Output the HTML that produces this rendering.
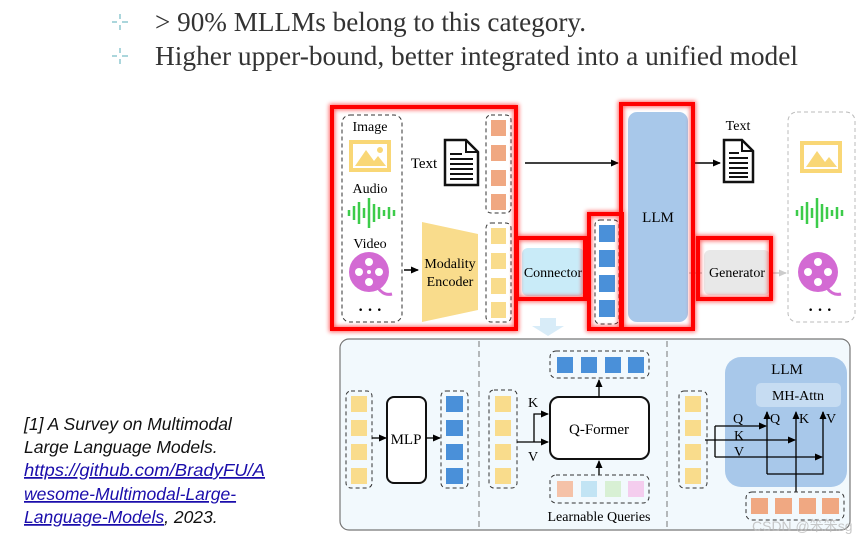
<!DOCTYPE html>
<html><head><meta charset="utf-8"><style>
html,body{margin:0;padding:0;background:#fff;width:868px;height:539px;overflow:hidden}
svg{display:block}
.s{font-family:"Liberation Serif",serif}
</style></head><body>
<svg width="868" height="539" viewBox="0 0 868 539" xmlns="http://www.w3.org/2000/svg">
<defs>
<marker id="a" markerWidth="8" markerHeight="8" refX="7" refY="4" orient="auto" markerUnits="userSpaceOnUse"><path d="M0,0.5 L8,4 L0,7.5z" fill="#000"/></marker>
<marker id="g" markerWidth="8" markerHeight="8" refX="7" refY="4" orient="auto" markerUnits="userSpaceOnUse"><path d="M0,0.5 L8,4 L0,7.5z" fill="#ccc"/></marker>
<filter id="gl" x="-10%" y="-10%" width="120%" height="120%"><feGaussianBlur stdDeviation="2"/></filter>
</defs>
<!-- top text -->
<g stroke="#8fc9d0" stroke-width="1.5">
<line x1="112" y1="22" x2="117" y2="22"/><line x1="122" y1="22" x2="128" y2="22"/><line x1="120" y1="14" x2="120" y2="19"/><line x1="120" y1="25" x2="120" y2="30"/>
<line x1="112" y1="56" x2="117" y2="56"/><line x1="122" y1="56" x2="128" y2="56"/><line x1="120" y1="48" x2="120" y2="53"/><line x1="120" y1="59" x2="120" y2="64"/>
</g>
<text x="155" y="31" class="s" font-size="27" fill="#333" textLength="431" lengthAdjust="spacingAndGlyphs">&gt; 90% MLLMs belong to this category.</text>
<text x="155" y="65" class="s" font-size="27" fill="#333" textLength="643" lengthAdjust="spacingAndGlyphs">Higher upper-bound, better integrated into a unified model</text>
<!-- footnote -->
<g font-family="Liberation Sans,sans-serif" font-style="italic" font-size="17.5" fill="#111">
<text x="24" y="430">[1] A Survey on Multimodal</text>
<text x="24" y="453">Large Language Models.</text>
<text x="24" y="476" fill="#1a0dab" text-decoration="underline" textLength="241" lengthAdjust="spacingAndGlyphs">https://github.com/BradyFU/A</text>
<text x="24" y="500" fill="#1a0dab" text-decoration="underline">wesome-Multimodal-Large-</text>
<text x="24" y="523"><tspan fill="#1a0dab" text-decoration="underline">Language-Models</tspan>, 2023.</text>
</g>

<!-- top diagram -->
<rect x="342" y="115" width="60" height="207" rx="8" fill="none" stroke="#333" stroke-dasharray="4,3"/>
<text x="370" y="131" class="s" font-size="14" text-anchor="middle">Image</text>
<rect x="349" y="140" width="42" height="32" fill="#f9d776"/><rect x="353" y="144" width="34" height="24" fill="#fff"/>
<path d="M355,166 L366,150 L374,161 L378,156 L386,166z" fill="#f9d776"/><circle cx="380" cy="150" r="3" fill="#f9d776"/>
<text x="370" y="193" class="s" font-size="14" text-anchor="middle">Audio</text>
<g stroke="#3ccc4a" stroke-width="2.5"><line x1="349" y1="210" x2="349" y2="216"/><line x1="354" y1="206" x2="354" y2="220"/><line x1="359" y1="202" x2="359" y2="224"/><line x1="364" y1="208" x2="364" y2="218"/><line x1="369" y1="198" x2="369" y2="228"/><line x1="374" y1="204" x2="374" y2="222"/><line x1="379" y1="207" x2="379" y2="219"/><line x1="384" y1="210" x2="384" y2="216"/><line x1="389" y1="207" x2="389" y2="219"/><line x1="394" y1="210" x2="394" y2="216"/></g>
<text x="370" y="248" class="s" font-size="14" text-anchor="middle">Video</text>
<circle cx="369" cy="272" r="20" fill="#d36ad3"/>
<g fill="#fff"><circle cx="369" cy="262" r="4"/><circle cx="369" cy="282" r="4"/><circle cx="359" cy="272" r="4"/><circle cx="379" cy="272" r="4"/><circle cx="369" cy="272" r="2"/></g>
<path d="M378,288 Q384,296 392,294" stroke="#d36ad3" stroke-width="3" fill="none"/>
<text x="370" y="315" class="s" font-size="16" text-anchor="middle" font-weight="bold">· · ·</text>
<line x1="404" y1="270" x2="418" y2="270" stroke="#000" stroke-width="1.5" marker-end="url(#a)"/>
<path d="M422,222 L478,234 L478,310 L422,322z" fill="#f9dc8c"/>
<text x="450" y="268" class="s" font-size="14" text-anchor="middle">Modality</text>
<text x="450" y="286" class="s" font-size="14" text-anchor="middle">Encoder</text>
<text x="424" y="168" class="s" font-size="15" text-anchor="middle">Text</text>
<g><path d="M445,140 L466,140 L478,152 L478,185 L445,185z" fill="#fff" stroke="#111" stroke-width="2.5"/><path d="M466,140 L466,152 L478,152" fill="none" stroke="#111" stroke-width="2"/>
<g stroke="#111" stroke-width="2"><line x1="450" y1="154" x2="462" y2="154"/><line x1="450" y1="159" x2="473" y2="159"/><line x1="450" y1="164" x2="473" y2="164"/><line x1="450" y1="169" x2="473" y2="169"/><line x1="450" y1="174" x2="473" y2="174"/><line x1="450" y1="179" x2="473" y2="179"/></g></g>
<rect x="486" y="115" width="25" height="98" rx="5" fill="none" stroke="#333" stroke-dasharray="4,3"/>
<g fill="#f0a882"><rect x="491" y="120" width="15" height="16"/><rect x="491" y="145" width="15" height="16"/><rect x="491" y="170" width="15" height="16"/><rect x="491" y="194" width="15" height="16"/></g>
<rect x="486" y="223" width="25" height="99" rx="5" fill="none" stroke="#333" stroke-dasharray="4,3"/>
<g fill="#f9dc8c"><rect x="491" y="228" width="15" height="16"/><rect x="491" y="253" width="15" height="16"/><rect x="491" y="278" width="15" height="16"/><rect x="491" y="302" width="15" height="16"/></g>
<line x1="525" y1="163" x2="618" y2="163" stroke="#000" stroke-width="1.5" marker-end="url(#a)"/>
<rect x="522" y="248" width="62" height="48" rx="6" fill="#c9ebf8"/>
<text x="553" y="277" class="s" font-size="14" text-anchor="middle">Connector</text>
<path d="M540,318 L556,318 L556,326 L564,326 L548,336 L532,326 L540,326z" fill="#d8ecf8"/>
<rect x="595" y="220" width="24" height="104" rx="5" fill="none" stroke="#333" stroke-dasharray="4,3"/>
<g fill="#4a90d9"><rect x="599" y="225" width="16" height="17"/><rect x="599" y="250" width="16" height="17"/><rect x="599" y="275" width="16" height="17"/><rect x="599" y="300" width="16" height="17"/></g>
<rect x="628" y="112" width="60" height="210" rx="9" fill="#a8c8ea"/>
<text x="658" y="222" class="s" font-size="15" text-anchor="middle">LLM</text>
<line x1="692" y1="163" x2="720" y2="163" stroke="#000" stroke-width="1.5" marker-end="url(#a)"/>
<text x="738" y="130" class="s" font-size="14" text-anchor="middle">Text</text>
<g><path d="M724,140 L742,140 L753,151 L753,182 L724,182z" fill="#fff" stroke="#111" stroke-width="2.5"/><path d="M742,140 L742,151 L753,151" fill="none" stroke="#111" stroke-width="2"/>
<g stroke="#111" stroke-width="2"><line x1="729" y1="153" x2="739" y2="153"/><line x1="729" y1="158" x2="748" y2="158"/><line x1="729" y1="163" x2="748" y2="163"/><line x1="729" y1="168" x2="748" y2="168"/><line x1="729" y1="173" x2="748" y2="173"/><line x1="729" y1="177" x2="748" y2="177"/></g></g>
<line x1="689" y1="273" x2="702" y2="273" stroke="#ccc" stroke-width="1.5"/>
<rect x="704" y="250" width="66" height="45" rx="6" fill="#e8e8e8"/>
<text x="737" y="277" class="s" font-size="14" text-anchor="middle">Generator</text>
<line x1="772" y1="273" x2="786" y2="273" stroke="#ccc" stroke-width="1.5" marker-end="url(#g)"/>
<rect x="788" y="112" width="67" height="210" rx="9" fill="none" stroke="#bbb" stroke-dasharray="4,3"/>
<rect x="800" y="141" width="42" height="32" fill="#f9d776"/><rect x="804" y="145" width="34" height="24" fill="#fff"/>
<path d="M806,167 L817,151 L825,162 L829,157 L837,167z" fill="#f9d776"/>
<g stroke="#3ccc4a" stroke-width="2.5"><line x1="797" y1="210" x2="797" y2="216"/><line x1="802" y1="206" x2="802" y2="220"/><line x1="807" y1="202" x2="807" y2="224"/><line x1="812" y1="208" x2="812" y2="218"/><line x1="817" y1="198" x2="817" y2="228"/><line x1="822" y1="204" x2="822" y2="222"/><line x1="827" y1="207" x2="827" y2="219"/><line x1="832" y1="210" x2="832" y2="216"/><line x1="837" y1="207" x2="837" y2="219"/><line x1="842" y1="210" x2="842" y2="216"/></g>
<circle cx="818" cy="272" r="20" fill="#d36ad3"/>
<g fill="#fff"><circle cx="818" cy="262" r="4"/><circle cx="818" cy="282" r="4"/><circle cx="808" cy="272" r="4"/><circle cx="828" cy="272" r="4"/></g>
<path d="M827,288 Q833,296 841,294" stroke="#d36ad3" stroke-width="3" fill="none"/>
<text x="820" y="315" class="s" font-size="16" text-anchor="middle" font-weight="bold">· · ·</text>

<!-- red highlight boxes -->
<g fill="none" stroke="#ff0000" stroke-width="4">
<g filter="url(#gl)" opacity="0.6" stroke-width="6">
<rect x="332" y="107" width="184" height="222"/><rect x="517" y="238" width="68" height="61"/><rect x="589" y="214" width="33" height="115"/><rect x="621" y="104" width="72" height="225"/><rect x="698" y="238" width="73" height="61"/></g>
<rect x="332" y="107" width="184" height="222"/><rect x="517" y="238" width="68" height="61"/><rect x="589" y="214" width="33" height="115"/><rect x="621" y="104" width="72" height="225"/><rect x="698" y="238" width="73" height="61"/>
</g>

<!-- bottom panel -->
<rect x="340" y="339" width="510" height="191" rx="9" fill="#f2f9fd" stroke="#777" stroke-width="1.2"/>
<line x1="479" y1="341" x2="479" y2="529" stroke="#777" stroke-dasharray="6,4"/>
<line x1="667" y1="341" x2="667" y2="529" stroke="#777" stroke-dasharray="6,4"/>
<!-- MLP -->
<rect x="346" y="391" width="26" height="97" rx="5" fill="none" stroke="#333" stroke-dasharray="4,3"/>
<g fill="#f9dc8c"><rect x="351" y="396" width="16" height="16"/><rect x="351" y="420" width="16" height="16"/><rect x="351" y="444" width="16" height="16"/><rect x="351" y="468" width="16" height="16"/></g>
<line x1="372" y1="438" x2="386" y2="438" stroke="#000" stroke-width="1.3" marker-end="url(#a)"/>
<rect x="387" y="397" width="39" height="86" rx="7" fill="#fff" stroke="#111" stroke-width="2"/>
<text x="406" y="444" class="s" font-size="15" text-anchor="middle">MLP</text>
<line x1="426" y1="438" x2="440" y2="438" stroke="#000" stroke-width="1.3" marker-end="url(#a)"/>
<rect x="441" y="391" width="27" height="97" rx="5" fill="none" stroke="#333" stroke-dasharray="4,3"/>
<g fill="#4a90d9"><rect x="446" y="396" width="17" height="16"/><rect x="446" y="420" width="17" height="16"/><rect x="446" y="444" width="17" height="16"/><rect x="446" y="468" width="17" height="16"/></g>
<!-- Q-Former -->
<rect x="489" y="390" width="28" height="98" rx="5" fill="none" stroke="#333" stroke-dasharray="4,3"/>
<g fill="#f9dc8c"><rect x="495" y="396" width="16" height="16"/><rect x="495" y="420" width="16" height="16"/><rect x="495" y="444" width="16" height="16"/><rect x="495" y="468" width="16" height="16"/></g>
<line x1="517" y1="442" x2="548" y2="442" stroke="#000" stroke-width="1.3" marker-end="url(#a)"/>
<polyline points="534,442 534,414 548,414" fill="none" stroke="#000" stroke-width="1.3" marker-end="url(#a)"/>
<text x="533" y="407" class="s" font-size="14" text-anchor="middle">K</text>
<text x="533" y="461" class="s" font-size="14" text-anchor="middle">V</text>
<rect x="550" y="397" width="99" height="62" rx="9" fill="#fff" stroke="#111" stroke-width="2"/>
<text x="599" y="434" class="s" font-size="15" text-anchor="middle">Q-Former</text>
<line x1="599" y1="397" x2="599" y2="380" stroke="#000" stroke-width="1.3" marker-end="url(#a)"/>
<rect x="550" y="351" width="99" height="27" rx="6" fill="none" stroke="#333" stroke-dasharray="4,3"/>
<g fill="#4a90d9"><rect x="557" y="357" width="16" height="16"/><rect x="581" y="357" width="16" height="16"/><rect x="605" y="357" width="16" height="16"/><rect x="628" y="357" width="16" height="16"/></g>
<line x1="599" y1="475" x2="599" y2="461" stroke="#000" stroke-width="1.3" marker-end="url(#a)"/>
<rect x="550" y="475" width="99" height="28" rx="6" fill="none" stroke="#333" stroke-dasharray="4,3"/>
<rect x="557" y="481" width="16" height="16" fill="#f5c2a8"/><rect x="581" y="481" width="16" height="16" fill="#c2e4f4"/><rect x="605" y="481" width="16" height="16" fill="#d8f0d4"/><rect x="628" y="481" width="16" height="16" fill="#f4cdee"/>
<text x="599" y="521" class="s" font-size="14" text-anchor="middle">Learnable Queries</text>
<!-- right section -->
<rect x="725" y="357" width="122" height="130" rx="16" fill="#a8c8ea"/>
<text x="787" y="374" class="s" font-size="15" text-anchor="middle">LLM</text>
<rect x="756" y="383" width="85" height="24" rx="5" fill="#c6dcf2"/>
<text x="798" y="400" class="s" font-size="14" text-anchor="middle">MH-Attn</text>
<rect x="679" y="391" width="28" height="97" rx="5" fill="none" stroke="#333" stroke-dasharray="4,3"/>
<g fill="#f9dc8c"><rect x="685" y="396" width="16" height="16"/><rect x="685" y="420" width="16" height="16"/><rect x="685" y="444" width="16" height="16"/><rect x="685" y="468" width="16" height="16"/></g>
<g stroke="#000" stroke-width="1.3" fill="none">
<line x1="705" y1="440" x2="795" y2="440" marker-end="url(#a)"/>
<line x1="715" y1="426" x2="715" y2="457"/>
<line x1="715" y1="426" x2="766" y2="426" marker-end="url(#a)"/>
<line x1="715" y1="457" x2="822" y2="457" marker-end="url(#a)"/>
<polyline points="767,474 767,412"/><line x1="767" y1="420" x2="767" y2="412" marker-end="url(#a)"/>
<polyline points="767,474 823,474 823,412"/><line x1="823" y1="420" x2="823" y2="412" marker-end="url(#a)"/>
<line x1="796" y1="492" x2="796" y2="412" marker-end="url(#a)"/>
</g>
<g class="s" font-size="14"><text x="733" y="423">Q</text><text x="734" y="440">K</text><text x="734" y="456">V</text>
<text x="770" y="423">Q</text><text x="799" y="423">K</text><text x="826" y="423">V</text></g>
<rect x="746" y="492" width="98" height="28" rx="6" fill="none" stroke="#333" stroke-dasharray="4,3"/>
<g fill="#f0a882"><rect x="751" y="498" width="17" height="16"/><rect x="775" y="498" width="17" height="16"/><rect x="799" y="498" width="17" height="16"/><rect x="822" y="498" width="17" height="16"/></g>
<text x="752" y="531" font-family="Liberation Sans,sans-serif" font-size="14" fill="#bbb" opacity="0.8">CSDN @笨笨sg</text>
</svg>
</body></html>
